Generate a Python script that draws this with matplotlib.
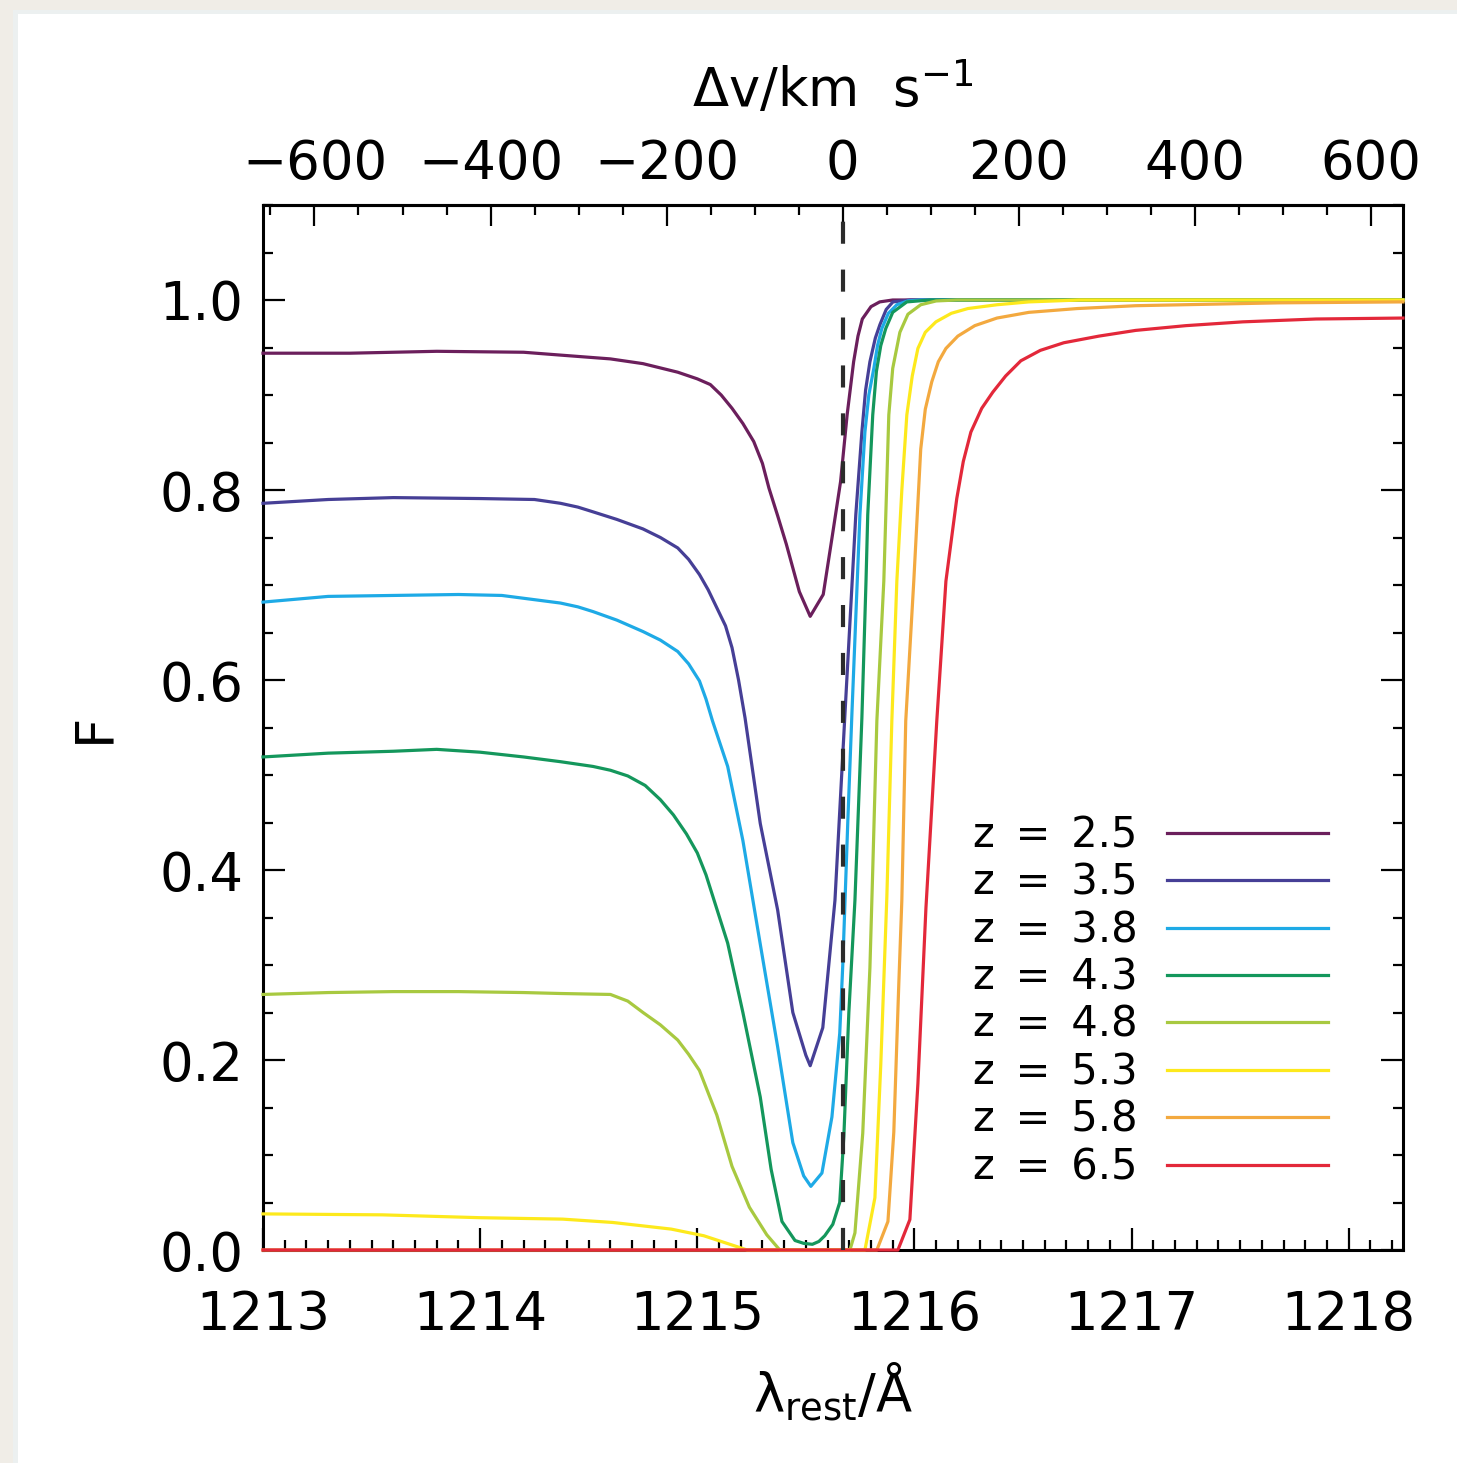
import numpy as np
import matplotlib
matplotlib.use('Agg')
import matplotlib.pyplot as plt
from matplotlib.patches import Rectangle
from matplotlib.ticker import MultipleLocator, FixedLocator, FormatStrFormatter

plt.rcParams['font.family'] = ['DejaVu Sans']
plt.rcParams['mathtext.fontset'] = 'custom'
plt.rcParams['mathtext.rm'] = 'DejaVu Sans'
plt.rcParams['mathtext.it'] = 'DejaVu Sans'
plt.rcParams['mathtext.bf'] = 'DejaVu Sans:bold'

C_KMS = 299792.458
LYA = 1215.67  # Lyman-alpha rest wavelength [A]

redshifts = [2.5, 3.5, 3.8, 4.3, 4.8, 5.3, 5.8, 6.5]
colors = ['#6b1f5c', '#463f96', '#1eaae6', '#14975c', '#a8c940', '#fde91c', '#f3a93f', '#e3283a']

# mean transmitted flux vs rest wavelength, one curve per redshift
wl_z25 = [1213.00, 1213.40, 1213.80, 1214.20, 1214.37, 1214.60, 1214.75, 1214.91, 1215.00, 1215.06,
          1215.11, 1215.16, 1215.21, 1215.26, 1215.30, 1215.33, 1215.37, 1215.41, 1215.47, 1215.52,
          1215.58, 1215.62, 1215.66, 1215.69, 1215.72, 1215.74, 1215.76, 1215.80, 1215.84, 1215.90,
          1218.25]
f_z25 = [0.944, 0.944, 0.946, 0.945, 0.942, 0.938, 0.933, 0.924, 0.917, 0.911,
         0.900, 0.886, 0.870, 0.851, 0.828, 0.802, 0.773, 0.743, 0.693, 0.667,
         0.690, 0.749, 0.809, 0.879, 0.935, 0.962, 0.980, 0.993, 0.998, 1.000,
         1.000]

wl_z35 = [1213.00, 1213.30, 1213.60, 1214.00, 1214.25, 1214.37, 1214.45, 1214.52, 1214.63, 1214.75,
          1214.83, 1214.91, 1214.96, 1215.01, 1215.05, 1215.09, 1215.13, 1215.16, 1215.19, 1215.22,
          1215.29, 1215.37, 1215.44, 1215.50, 1215.52, 1215.578, 1215.634, 1215.68, 1215.73, 1215.758,
          1215.775, 1215.795, 1215.82, 1215.841, 1215.87, 1215.901, 1215.98, 1218.25]
f_z35 = [0.786, 0.790, 0.792, 0.791, 0.790, 0.786, 0.782, 0.777, 0.769, 0.759,
         0.750, 0.739, 0.727, 0.711, 0.695, 0.676, 0.657, 0.634, 0.600, 0.560,
         0.449, 0.358, 0.250, 0.205, 0.194, 0.234, 0.368, 0.564, 0.774, 0.861,
         0.905, 0.935, 0.960, 0.974, 0.990, 0.998, 1.000, 1.000]

wl_z38 = [1213.00, 1213.30, 1213.60, 1213.90, 1214.10, 1214.37, 1214.45, 1214.52, 1214.63, 1214.75,
          1214.83, 1214.91, 1214.96, 1215.01, 1215.04, 1215.07, 1215.14, 1215.21, 1215.29, 1215.37,
          1215.44, 1215.49, 1215.523, 1215.574, 1215.62, 1215.656, 1215.67, 1215.693, 1215.712, 1215.749,
          1215.772, 1215.79, 1215.813, 1215.83, 1215.85, 1215.88, 1215.919, 1215.97, 1216.025, 1218.25]
f_z38 = [0.682, 0.688, 0.689, 0.690, 0.689, 0.681, 0.677, 0.672, 0.663, 0.651,
         0.642, 0.630, 0.617, 0.599, 0.580, 0.557, 0.509, 0.431, 0.322, 0.214,
         0.113, 0.078, 0.067, 0.081, 0.140, 0.228, 0.300, 0.450, 0.564, 0.774,
         0.861, 0.900, 0.928, 0.952, 0.970, 0.986, 0.995, 0.999, 1.000, 1.000]

wl_z43 = [1213.00, 1213.30, 1213.60, 1213.80, 1214.00, 1214.20, 1214.37, 1214.52, 1214.60, 1214.68,
          1214.76, 1214.83, 1214.89, 1214.95, 1215.00, 1215.04, 1215.14, 1215.21, 1215.29, 1215.34,
          1215.39, 1215.45, 1215.49, 1215.53, 1215.56, 1215.587, 1215.624, 1215.656, 1215.675, 1215.698,
          1215.726, 1215.758, 1215.777, 1215.785, 1215.808, 1215.825, 1215.845, 1215.868, 1215.90, 1215.965,
          1216.07, 1218.25]
f_z43 = [0.519, 0.523, 0.525, 0.527, 0.524, 0.519, 0.514, 0.509, 0.505, 0.499,
         0.489, 0.474, 0.458, 0.438, 0.418, 0.395, 0.323, 0.250, 0.161, 0.085,
         0.030, 0.010, 0.007, 0.006, 0.009, 0.015, 0.027, 0.050, 0.120, 0.250,
         0.368, 0.560, 0.704, 0.774, 0.879, 0.925, 0.952, 0.970, 0.987, 0.998,
         1.000, 1.000]

wl_z48 = [1213.00, 1213.30, 1213.60, 1213.90, 1214.20, 1214.37, 1214.60, 1214.68, 1214.75, 1214.83,
          1214.91, 1214.96, 1215.01, 1215.09, 1215.16, 1215.24, 1215.32, 1215.38, 1215.703, 1215.726,
          1215.762, 1215.795, 1215.808, 1215.827, 1215.859, 1215.882, 1215.90, 1215.933, 1215.97, 1216.029,
          1216.10, 1216.195, 1218.25]
f_z48 = [0.269, 0.271, 0.272, 0.272, 0.271, 0.270, 0.269, 0.262, 0.250, 0.237,
         0.221, 0.206, 0.189, 0.142, 0.088, 0.045, 0.016, 0.000, 0.000, 0.018,
         0.123, 0.297, 0.400, 0.557, 0.704, 0.879, 0.928, 0.966, 0.985, 0.995,
         0.999, 1.000, 1.000]

wl_z53 = [1213.00, 1213.55, 1214.00, 1214.38, 1214.61, 1214.88, 1215.03, 1215.17, 1215.23, 1215.772,
          1215.818, 1215.845, 1215.873, 1215.896, 1215.919, 1215.942, 1215.965, 1215.99, 1216.016, 1216.05,
          1216.099, 1216.17, 1216.246, 1216.38, 1216.527, 1216.76, 1218.25]
f_z53 = [0.038, 0.037, 0.034, 0.0325, 0.029, 0.022, 0.015, 0.0045, 0.000, 0.000,
         0.055, 0.195, 0.372, 0.557, 0.704, 0.800, 0.879, 0.920, 0.949, 0.966,
         0.977, 0.986, 0.991, 0.995, 0.998, 1.000, 1.000]

wl_z58 = [1213.00, 1215.827, 1215.878, 1215.905, 1215.928, 1215.942, 1215.960, 1215.997, 1216.029, 1216.05,
          1216.080, 1216.11, 1216.145, 1216.20, 1216.278, 1216.38, 1216.527, 1216.75, 1217.019, 1217.678,
          1218.25]
f_z58 = [0.000, 0.000, 0.030, 0.124, 0.280, 0.368, 0.557, 0.704, 0.843, 0.885,
         0.914, 0.935, 0.949, 0.962, 0.973, 0.981, 0.987, 0.991, 0.994, 0.997,
         0.998]

wl_z65 = [1213.00, 1215.924, 1215.979, 1216.016, 1216.053, 1216.103, 1216.145, 1216.195, 1216.225, 1216.260,
          1216.31, 1216.361, 1216.42, 1216.490, 1216.58, 1216.688, 1216.85, 1217.019, 1217.25, 1217.512,
          1217.85, 1218.25]
f_z65 = [0.000, 0.000, 0.032, 0.175, 0.360, 0.557, 0.704, 0.791, 0.830, 0.861,
         0.886, 0.903, 0.920, 0.936, 0.947, 0.955, 0.962, 0.968, 0.973, 0.977,
         0.980, 0.981]

wavelengths = [wl_z25, wl_z35, wl_z38, wl_z43, wl_z48, wl_z53, wl_z58, wl_z65]
fluxes = [f_z25, f_z35, f_z38, f_z43, f_z48, f_z53, f_z58, f_z65]


def wl_to_v(wl):
    return C_KMS * (np.asarray(wl) - LYA) / LYA


def v_to_wl(v):
    return LYA * (1.0 + np.asarray(v) / C_KMS)


W, H = 1457, 1463
fig = plt.figure(figsize=(W / 100, H / 100), dpi=100)
fig.patch.set_facecolor('#f0ede7')
# white card with a pale rim
fig.add_artist(Rectangle((13 / W, 0), 1, 1 - 10 / H, transform=fig.transFigure,
                         facecolor='#ecf0f0', edgecolor='none', zorder=0))
fig.add_artist(Rectangle((18 / W, 0), 1, 1 - 14 / H, transform=fig.transFigure,
                         facecolor='white', edgecolor='none', zorder=0))

ax = fig.add_axes([263 / W, 1 - 1250 / H, 1140 / W, 1045 / H])
ax.set_facecolor('none')

handles = []
for z, wl, fl, col in zip(redshifts, wavelengths, fluxes, colors):
    line, = ax.plot(wl, fl, color=col, lw=2.3, zorder=3, clip_on=False,
                    solid_joinstyle='round')
    handles.append(line)

ax.axvline(LYA, color='#2b2b2b', lw=3.0, dashes=(5.3, 6.2), zorder=4)

ax.set_xlim(1213.0, 1218.25)
ax.set_ylim(0.0, 1.1)

ax.xaxis.set_major_locator(MultipleLocator(1))
ax.xaxis.set_minor_locator(MultipleLocator(0.1))
ax.xaxis.set_major_formatter(FormatStrFormatter('%d'))
ax.yaxis.set_major_locator(MultipleLocator(0.2))
ax.yaxis.set_minor_locator(MultipleLocator(0.05))
ax.yaxis.set_major_formatter(FormatStrFormatter('%.1f'))

ax.tick_params(axis='both', which='both', direction='in', colors='black', width=1.6)
ax.tick_params(axis='x', which='both', top=False, bottom=True)
ax.tick_params(axis='y', which='both', left=True, right=True)
ax.tick_params(which='major', length=15.5)
ax.tick_params(which='minor', length=7.5)
ax.tick_params(axis='x', which='major', labelsize=38, pad=28)
ax.tick_params(axis='y', which='major', labelsize=38, pad=14)
for sp in ax.spines.values():
    sp.set_linewidth(2.2)
    sp.set_zorder(2.5)

secax = ax.secondary_xaxis('top', functions=(wl_to_v, v_to_wl))
secax.xaxis.set_major_locator(FixedLocator([-600, -400, -200, 0, 200, 400, 600]))
secax.xaxis.set_minor_locator(MultipleLocator(50))
secax.tick_params(axis='x', which='both', direction='in', width=1.6)
secax.tick_params(which='major', length=15.0, labelsize=38, pad=11)
secax.tick_params(which='minor', length=7.5)
secax.spines['top'].set_linewidth(2.2)
secax.set_xlabel(r'$\Delta$v/km  s$^{-1}$', fontsize=38, labelpad=22)

ax.set_xlabel(r'$\lambda_{\rm rest}$/Å', fontsize=38, labelpad=14)
ax.set_ylabel('F', fontsize=38, labelpad=28)

labels = ['z\u2002=\u2002%.1f' % z for z in redshifts]
ax.legend(handles, labels, loc='center right', bbox_to_anchor=(0.934, 0.238),
          frameon=False, markerfirst=False, fontsize=30, handlelength=3.86,
          handletextpad=0.7, labelspacing=0.13, borderpad=0, borderaxespad=0)

fig.savefig('out.png', dpi=100)
